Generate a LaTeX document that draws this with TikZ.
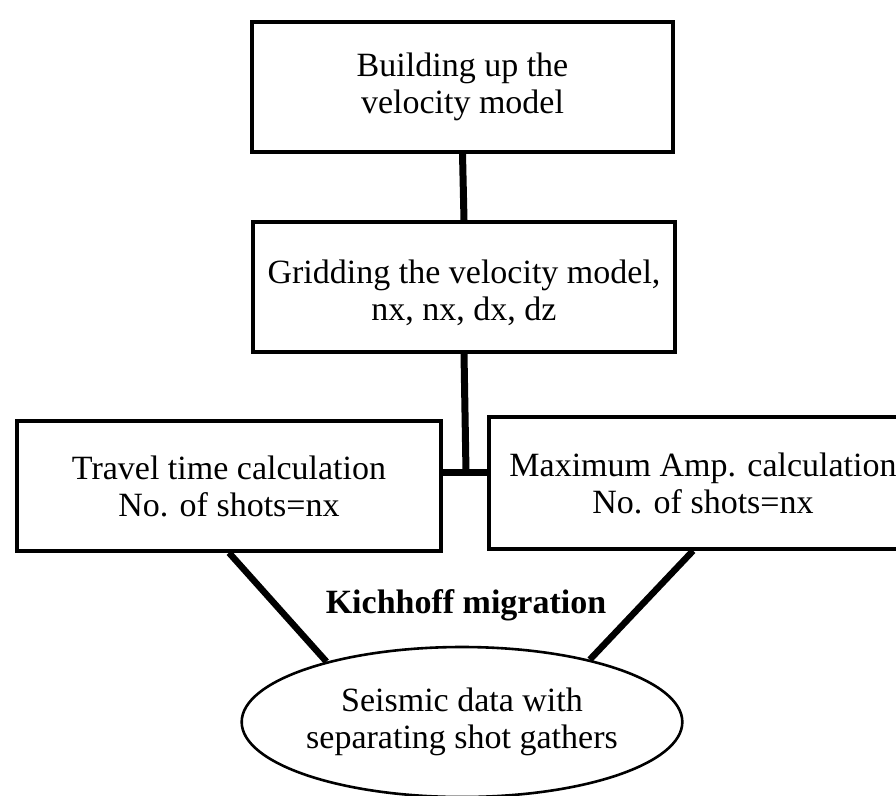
\documentclass[tikz,border=0pt]{standalone}
\usepackage{fontspec}
\setmainfont{Liberation Serif}
\usetikzlibrary{shapes.geometric}
\begin{document}
\begin{tikzpicture}[x=1pt,y=-1pt,
  font=\fontsize{34}{37}\selectfont,
  boxnode/.style={draw=black, line width=3.5pt, rectangle, align=center, inner sep=0pt},
  ovalnode/.style={draw=black, line width=2.6pt, ellipse, align=center, inner sep=0pt},
  textnode/.style={align=center, inner sep=0pt},
  conn/.style={line width=7pt, draw=black},
  diag/.style={line width=6.5pt, draw=black}]
\useasboundingbox (0,0) rectangle (896,795);
\begin{scope}
\clip (0,0) rectangle (896,795);
\node[boxnode, minimum width=421pt, minimum height=130pt] (b1) at (462.5,87) {Building up the\\velocity model};
\node[boxnode, minimum width=422pt, minimum height=130pt] (b2) at (464,287) {};
\node[textnode] (b2t) at (464,293) {Gridding the velocity model,\\nx, nx, dx, dz};
\node[boxnode, minimum width=424pt, minimum height=130pt] (b3) at (229,486) {Travel time calculation\\No. of shots=nx};
\node[boxnode, minimum width=428pt, minimum height=132pt] (b4) at (703,483) {Maximum Amp. calculation\\No. of shots=nx};
\node[ovalnode, minimum width=422pt, minimum height=150pt] (el) at (462,722) {Seismic data with\\separating shot gathers};
\node[font=\fontsize{34}{37}\selectfont\bfseries] (lab) at (466,605) {Kichhoff migration};
\coordinate (j) at (466,472);
\draw[conn] (b1.south) -- (b2.north);
\draw[conn] (b2.south) -- (j);
\draw[conn] (b3.east |- j) -- (b4.west |- j);
\draw[diag] (b3.south) -- (el.156);
\draw[diag] ([xshift=-10pt]b4.south) -- (el.26);
\end{scope}
\end{tikzpicture}
\end{document}
